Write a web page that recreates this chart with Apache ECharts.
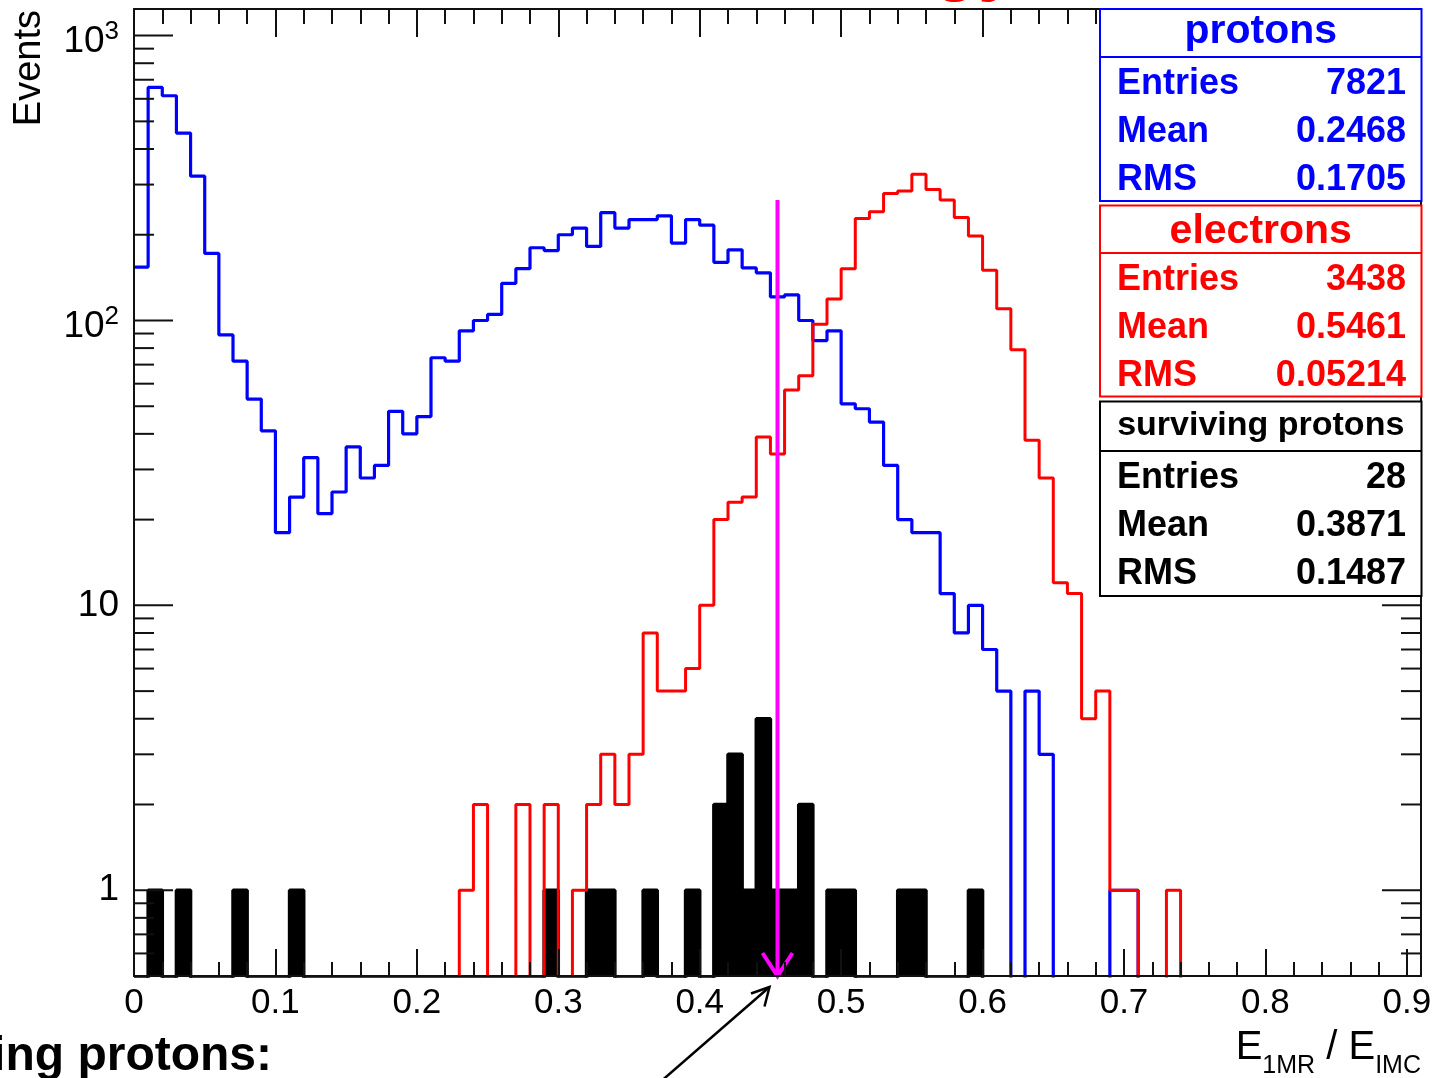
<!DOCTYPE html>
<html>
<head>
<meta charset="utf-8">
<script src="https://cdn.jsdelivr.net/npm/echarts@6/dist/echarts.min.js"></script>
<style>
html,body{margin:0;padding:0;background:#fff;}
#chart{width:1439px;height:1078px;}
</style>
</head>
<body>
<div id="chart"></div>
<script>
// ---------------- data ----------------
const binWidth = 0.01;          // histogram bin width in E1MR/EIMC
const xMin = 0, xMax = 0.91;
const yMin = 0.5, yMax = 1240;

// protons (blue), bins starting at 0.00
const protonCounts = [
  154, 658, 615, 455, 321, 172, 89, 72, 53, 41,
  18, 24, 33, 21, 25, 36, 28, 31, 48, 40,
  46, 74, 72, 92, 100, 105, 135, 152, 180, 176,
  200, 211, 182, 239, 211, 226, 226, 233, 187, 226,
  216, 160, 177, 153, 147, 121, 123, 100, 85, 92,
  51, 49, 44, 31, 20, 18, 18, 11, 8, 10,
  7, 5, 0, 5, 3, 0, 0, 0, 0, 1,
  1
];
// electrons (red)
const electronCounts = [
  0, 0, 0, 0, 0, 0, 0, 0, 0, 0,
  0, 0, 0, 0, 0, 0, 0, 0, 0, 0,
  0, 0, 0, 1, 2, 0, 0, 2, 0, 2,
  0, 1, 2, 3, 2, 3, 8, 5, 5, 6,
  10, 20, 23, 24, 39, 34, 57, 64, 97, 119,
  152, 228, 241, 279, 285, 326, 288, 265, 230, 198,
  150, 110, 79, 38, 28, 12, 11, 4, 5, 1,
  1, 0, 0, 1
];
// surviving protons (black, filled)
const survivingCounts = [
  0, 1, 0, 1, 0, 0, 0, 1, 0, 0,
  0, 1, 0, 0, 0, 0, 0, 0, 0, 0,
  0, 0, 0, 0, 0, 0, 0, 0, 0, 1,
  0, 0, 1, 1, 0, 0, 1, 0, 0, 1,
  0, 2, 3, 1, 4, 1, 1, 2, 0, 1,
  1, 0, 0, 0, 1, 1, 0, 0, 0, 1
];

// cut arrow (magenta)
const cutValue = 0.455;
const cutArrowTop = 265;

// y tick values (log axis, ROOT style)
const yMajorTicks = [1, 10, 100, 1000];
const yMinorTicks = [0.6, 0.7, 0.8, 0.9,
  2, 3, 4, 5, 6, 7, 8, 9,
  20, 30, 40, 50, 60, 70, 80, 90,
  200, 300, 400, 500, 600, 700, 800, 900];
const yTickLabels = ['1', '10', '10|2', '10|3'];

// stats boxes
const statTitles = ['protons', 'electrons', 'surviving protons'];
const statEntries = ['7821', '3438', '28'];
const statMeans = ['0.2468', '0.5461', '0.3871'];
const statRMS = ['0.1705', '0.05214', '0.1487'];
const statColors = ['#0000ff', '#ff0000', '#000000'];

// ---------------- helpers ----------------
const FONT = "'Liberation Sans', Arial, Helvetica, sans-serif";
const AXIS_COLOR = '#111';
// empty bins are drawn just below the frame (hidden, as in ROOT)
const emptyLevel = yMin * 0.85;

function stepData(vals) {
  const pts = [];
  for (let i = 0; i < vals.length; i++) {
    const y = vals[i] > 0 ? vals[i] : emptyLevel;
    pts.push([i * binWidth, y], [(i + 1) * binWidth, y]);
  }
  pts.push([vals.length * binWidth, emptyLevel]);
  return pts;
}

function xLabel(v) {
  const r = Math.round(v * 10);
  if (Math.abs(v * 10 - r) > 1e-6) return '';
  return String(r / 10);
}
function yLabel(v) {
  const l = Math.log10(v);
  const e = Math.round(l);
  if (Math.abs(l - e) > 1e-6 || e < 0 || e >= yTickLabels.length) return '';
  const t = yTickLabels[e];
  if (t.indexOf('|') < 0) return t;
  const parts = t.split('|');
  return '{b|' + parts[0] + '}{s|' + parts[1] + '}';
}

const tickData = yMajorTicks.map(v => [0, v, 1]).concat(yMinorTicks.map(v => [0, v, 0]));

const chart = echarts.init(document.getElementById('chart'), null, {renderer: 'canvas'});

const xAxisCommon = {
  type: 'value', min: xMin, max: xMax, interval: 0.1, z: 10,
  axisLine: {show: true, onZero: false, lineStyle: {color: AXIS_COLOR, width: 2}},
  splitLine: {show: false}, minorSplitLine: {show: false}
};

// stats box graphics
const boxLeft = 1100, boxRight = 1421.5;
const boxTops = [9, 205.5, 401.5];
const boxBottoms = [201, 396.5, 596];
const boxSeps = [57, 253, 451];
const titleSizes = [41, 41, 34];
const titleOffsets = [-1, 2, -1];
const graphics = [];
for (let i = 0; i < 3; i++) {
  const c = statColors[i];
  graphics.push({
    type: 'rect', z: 100,
    shape: {x: boxLeft, y: boxTops[i], width: boxRight - boxLeft, height: boxBottoms[i] - boxTops[i]},
    style: {fill: '#fff', stroke: c, lineWidth: 2}
  });
  graphics.push({
    type: 'line', z: 101,
    shape: {x1: boxLeft, y1: boxSeps[i], x2: boxRight, y2: boxSeps[i]},
    style: {stroke: c, lineWidth: 2}
  });
  graphics.push({
    type: 'text', z: 102, x: (boxLeft + boxRight) / 2, y: (boxTops[i] + boxSeps[i]) / 2 + titleOffsets[i],
    style: {text: statTitles[i], fill: c, fontFamily: FONT, fontWeight: 'bold', fontSize: titleSizes[i],
      align: 'center', verticalAlign: 'middle'}
  });
  const names = ['Entries', 'Mean', 'RMS'];
  const vals = [statEntries[i], statMeans[i], statRMS[i]];
  for (let k = 0; k < 3; k++) {
    const yy = boxSeps[i] + 27.5 + 48 * k;
    graphics.push({
      type: 'text', z: 102, x: 1117, y: yy,
      style: {text: names[k], fill: c, fontFamily: FONT, fontWeight: 'bold', fontSize: 36,
        align: 'left', verticalAlign: 'middle'}
    });
    graphics.push({
      type: 'text', z: 102, x: 1406, y: yy,
      style: {text: vals[k], fill: c, fontFamily: FONT, fontWeight: 'bold', fontSize: 36,
        align: 'right', verticalAlign: 'middle'}
    });
  }
}
// axis titles and cut-off texts
graphics.push({
  type: 'text', z: 50, x: 30, y: 10, rotation: Math.PI / 2,
  style: {text: 'Events', fill: '#000', fontFamily: FONT, fontSize: 38, align: 'right', verticalAlign: 'middle'}
});
graphics.push({
  type: 'text', z: 50, x: 1421, y: 1028,
  style: {
    text: '{m|E}{s|1MR}{m| / E}{s|IMC}', align: 'right', verticalAlign: 'top', fill: '#000',
    rich: {
      m: {fontFamily: FONT, fontSize: 40, fill: '#000', padding: [0, 0, 11, 0]},
      s: {fontFamily: FONT, fontSize: 25, fill: '#000', verticalAlign: 'bottom'}
    }
  }
});
graphics.push({
  type: 'text', z: 50, x: 1018, y: -33,
  style: {text: 'Energy', fill: '#ff0000', fontFamily: FONT, fontWeight: 'bold', fontSize: 72,
    align: 'right', verticalAlign: 'middle'}
});
graphics.push({
  type: 'text', z: 50, x: 272, y: 1057,
  style: {text: 'surviving protons:', fill: '#000', fontFamily: FONT, fontWeight: 'bold', fontSize: 48,
    align: 'right', verticalAlign: 'middle'}
});

const option = {
  animation: false,
  backgroundColor: '#fff',
  grid: {left: 134, right: 18, top: 9, bottom: 102, containLabel: false},
  xAxis: [
    Object.assign({}, xAxisCommon, {
      position: 'bottom',
      axisTick: {show: true, inside: true, length: 27, lineStyle: {color: AXIS_COLOR, width: 2}},
      minorTick: {show: true, splitNumber: 5, length: 14, lineStyle: {color: AXIS_COLOR, width: 2}},
      axisLabel: {show: true, formatter: xLabel, fontFamily: FONT, fontSize: 35, color: '#000', margin: 10}
    }),
    Object.assign({}, xAxisCommon, {
      position: 'top',
      axisTick: {show: true, inside: true, length: 28, lineStyle: {color: AXIS_COLOR, width: 2}},
      minorTick: {show: true, splitNumber: 5, length: 15, lineStyle: {color: AXIS_COLOR, width: 2}},
      axisLabel: {show: false}
    })
  ],
  yAxis: [
    {
      type: 'log', logBase: 10, min: yMin, max: yMax, position: 'left', z: 10,
      axisLine: {show: true, onZero: false, lineStyle: {color: AXIS_COLOR, width: 2}},
      axisTick: {show: false}, minorTick: {show: false},
      splitLine: {show: false}, minorSplitLine: {show: false},
      axisLabel: {
        show: true, formatter: yLabel, fontFamily: FONT, fontSize: 37, color: '#000', margin: 15,
        showMinLabel: true, showMaxLabel: true,
        rich: {
          b: {fontFamily: FONT, fontSize: 37, color: '#000', padding: [12, 0, 0, 0]},
          s: {fontFamily: FONT, fontSize: 26, color: '#000', verticalAlign: 'top', padding: [8, 0, 0, 0]}
        }
      }
    },
    {
      type: 'log', logBase: 10, min: yMin, max: yMax, position: 'right', z: 10,
      axisLine: {show: true, onZero: false, lineStyle: {color: AXIS_COLOR, width: 2}},
      axisTick: {show: false}, minorTick: {show: false},
      splitLine: {show: false}, axisLabel: {show: false}
    }
  ],
  series: [
    {
      name: 'surviving protons', type: 'line', xAxisIndex: 0, yAxisIndex: 0, z: 2,
      data: stepData(survivingCounts), showSymbol: false, symbol: 'none',
      lineStyle: {color: '#000', width: 3.5},
      areaStyle: {color: '#000', opacity: 1, origin: 'start'}
    },
    {
      name: 'protons', type: 'line', xAxisIndex: 0, yAxisIndex: 0, z: 3,
      data: stepData(protonCounts), showSymbol: false, symbol: 'none',
      lineStyle: {color: '#0000ff', width: 3.2}
    },
    {
      name: 'electrons', type: 'line', xAxisIndex: 0, yAxisIndex: 0, z: 4,
      data: stepData(electronCounts), showSymbol: false, symbol: 'none',
      lineStyle: {color: '#ff0000', width: 3}
    },
    {
      name: 'cut', type: 'custom', xAxisIndex: 0, yAxisIndex: 0, z: 6, clip: false,
      data: [[cutValue, cutArrowTop]],
      renderItem: function (params, api) {
        const top = api.coord([api.value(0), api.value(1)]);
        const bot = api.coord([api.value(0), yMin]);
        const tx = bot[0] - 8, ty = bot[1] + 11;
        return {
          type: 'group', children: [
            {type: 'line', shape: {x1: top[0], y1: top[1], x2: bot[0], y2: bot[1]},
              style: {stroke: '#ff00ff', lineWidth: 4}},
            {type: 'polyline', shape: {points: [[bot[0] - 15, bot[1] - 23], [bot[0], bot[1]], [bot[0] + 15, bot[1] - 23]]},
              style: {stroke: '#ff00ff', lineWidth: 4, fill: null}},
            {type: 'line', shape: {x1: tx, y1: ty, x2: tx - 130, y2: ty + 113},
              style: {stroke: '#000', lineWidth: 2.5}},
            {type: 'polyline', shape: {points: [[tx - 18.5, ty + 6.5], [tx, ty], [tx - 5, ty + 19.5]]},
              style: {stroke: '#000', lineWidth: 2.5, fill: null}}
          ]
        };
      }
    },
    {
      name: 'yticks', type: 'custom', xAxisIndex: 0, yAxisIndex: 0, z: 9, clip: false,
      data: tickData,
      renderItem: function (params, api) {
        const cs = params.coordSys;
        const y = api.coord([0, api.value(1)])[1];
        const len = api.value(2) ? 39 : 20;
        return {
          type: 'group', children: [
            {type: 'line', shape: {x1: cs.x, y1: y, x2: cs.x + len, y2: y}, style: {stroke: AXIS_COLOR, lineWidth: 2}},
            {type: 'line', shape: {x1: cs.x + cs.width - len, y1: y, x2: cs.x + cs.width, y2: y}, style: {stroke: AXIS_COLOR, lineWidth: 2}}
          ]
        };
      }
    }
  ],
  graphic: graphics
};
chart.setOption(option);
</script>
</body>
</html>
